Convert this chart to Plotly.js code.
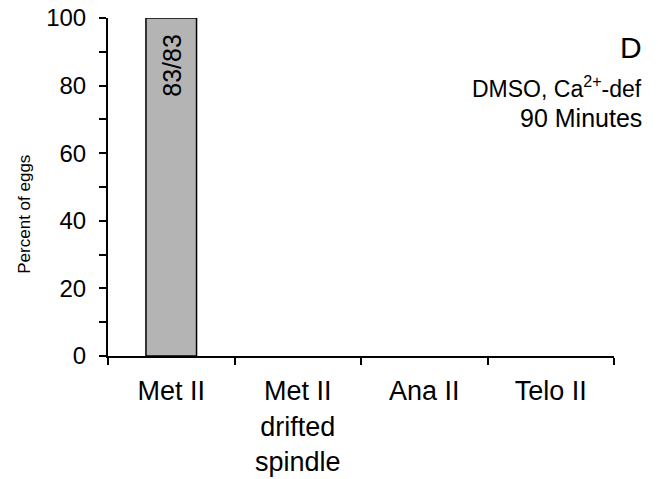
<!DOCTYPE html>
<html>
<head>
<meta charset="utf-8">
<script src="https://cdn.plot.ly/plotly-3.0.1.min.js"></script>
<style>html,body{margin:0;padding:0;background:#fff}#chart{width:658px;height:479px}</style>
</head>
<body>
<div id="chart"></div>
<script>
const categories = ["Met II", "Met II<br>drifted<br>spindle", "Ana II", "Telo II"];
const values = [100, 0, 0, 0];
const barLabels = ["83/83", "", "", ""];
const yTicks = [0, 20, 40, 60, 80, 100];
const panelLetter = "D";
const conditionLines = ["DMSO, Ca<sup>2+</sup>-def", "90 Minutes"];
const yTitle = "Percent of eggs";

const FONT = "Liberation Sans, Arial, sans-serif";

const trace = {
  type: "bar",
  x: categories,
  y: values,
  width: 0.4,
  marker: { color: "#b4b4b4", line: { color: "#000", width: values.map(v => v > 0 ? 1.5 : 0) } },
  hoverinfo: "none"
};

const annotations = [];
barLabels.forEach((t, i) => {
  if (t) annotations.push({
    x: categories[i], y: values[i], xref: "x", yref: "y",
    text: t, showarrow: false, textangle: -90,
    xanchor: "center", yanchor: "top", yshift: -14,
    font: { family: FONT, size: 25, color: "#000" }
  });
});
annotations.push({
  x: 1, y: 0.912, xref: "paper", yref: "paper", xanchor: "right", yanchor: "middle",
  xshift: 30, text: panelLetter, showarrow: false,
  font: { family: FONT, size: 30, color: "#000" }
});
annotations.push({
  x: 1, y: 0.795, xref: "paper", yref: "paper", xanchor: "right", yanchor: "middle",
  xshift: 30, text: conditionLines[0], showarrow: false,
  font: { family: FONT, size: 23, color: "#000" }
});
annotations.push({
  x: 1, y: 0.703, xref: "paper", yref: "paper", xanchor: "right", yanchor: "middle",
  xshift: 30, text: conditionLines[1], showarrow: false,
  font: { family: FONT, size: 25, color: "#000" }
});
// y-axis title (placed as annotation, as it sits below the axis centre in the reference)
annotations.push({
  x: 0, y: 0.418, xref: "paper", yref: "paper", xanchor: "center", yanchor: "middle",
  xshift: -83, text: yTitle, showarrow: false, textangle: -90,
  font: { family: FONT, size: 17, color: "#000" }
});

const layout = {
  width: 658, height: 479,
  margin: { l: 108, r: 44, t: 18, b: 123, pad: 0 },
  paper_bgcolor: "#fff", plot_bgcolor: "#fff",
  showlegend: false,
  font: { family: FONT, color: "#000" },
  xaxis: {
    type: "category",
    range: [-0.5, 3.5],
    showline: true, linecolor: "#000", linewidth: 2,
    ticks: "outside", tickson: "boundaries", ticklen: 7, tickwidth: 2, tickcolor: "#000",
    ticklabelstandoff: 10,
    tickfont: { family: FONT, size: 27, color: "#000" },
    showgrid: false, zeroline: false, fixedrange: true
  },
  yaxis: {
    range: [0, 100],
    tickvals: yTicks,
    ticktext: yTicks.map(String),
    showline: true, linecolor: "#000", linewidth: 2,
    ticks: "outside", ticklen: 7, tickwidth: 2, tickcolor: "#000",
    minor: { dtick: 10, tick0: 0, ticks: "outside", ticklen: 7, tickwidth: 2, tickcolor: "#000", showgrid: false },
    ticklabelstandoff: 8,
    tickfont: { family: FONT, size: 24, color: "#000" },
    showgrid: false, zeroline: false, fixedrange: true
  },
  annotations: annotations
};

Plotly.newPlot("chart", [trace], layout, { displayModeBar: false, staticPlot: true });
</script>
</body>
</html>
